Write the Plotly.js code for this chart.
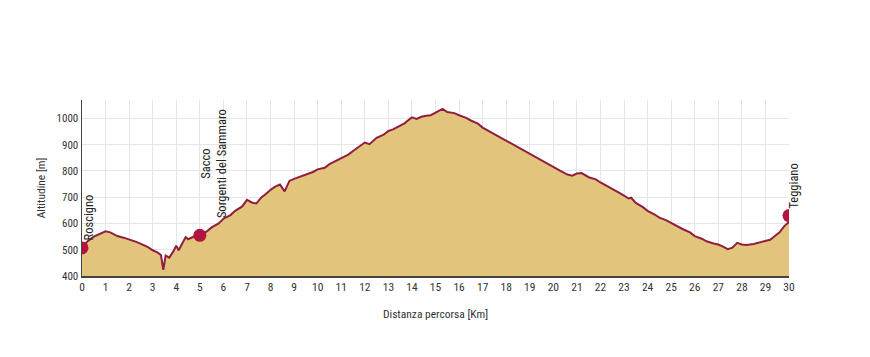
<!DOCTYPE html>
<html><head><meta charset="utf-8">
<script src="https://cdn.plot.ly/plotly-3.0.1.min.js"></script>
<style>html,body{margin:0;padding:0;background:#fff}</style>
</head><body><div id="chart" style="width:870px;height:357px"></div>
<script>
const dist = [0,0.2,0.5,0.8,1.0,1.2,1.5,1.8,2.0,2.3,2.5,2.8,3.0,3.2,3.35,3.45,3.55,3.7,3.85,4.0,4.1,4.3,4.4,4.5,4.7,4.8,5.0,5.3,5.5,5.8,6.0,6.3,6.5,6.8,7.0,7.2,7.4,7.6,7.8,8.0,8.2,8.4,8.6,8.8,9.0,9.2,9.4,9.6,9.8,10.0,10.3,10.5,10.8,11.0,11.3,11.5,11.8,12.0,12.2,12.3,12.5,12.8,13.0,13.2,13.5,13.7,13.8,14.0,14.2,14.4,14.6,14.8,15.0,15.2,15.3,15.5,15.8,16.0,16.3,16.5,16.8,17.0,17.5,18.0,18.5,19.0,19.5,20.0,20.3,20.6,20.8,21.0,21.2,21.5,21.8,22.0,22.3,22.5,22.8,23.0,23.2,23.3,23.5,23.8,24.0,24.3,24.5,24.8,25.0,25.3,25.5,25.8,26.0,26.3,26.5,26.8,27.0,27.2,27.4,27.6,27.8,28.0,28.2,28.5,28.8,29.0,29.2,29.4,29.6,29.8,30.0];
const elev = [507,530,550,562,570,566,552,545,540,530,522,510,498,490,480,423,478,470,490,515,498,530,548,540,548,552,555,570,585,600,618,632,648,665,690,680,676,698,712,728,740,748,722,762,770,776,782,790,796,806,812,826,840,850,862,876,894,908,902,910,926,938,952,958,972,982,990,1004,998,1006,1010,1012,1022,1030,1036,1024,1020,1012,1002,992,980,965,940,914,889,863,838,812,800,786,782,790,792,776,768,756,742,730,716,706,695,698,678,662,648,634,622,612,602,590,578,566,552,542,532,524,520,512,502,508,526,520,518,522,528,534,538,552,566,590,606,630];
const labels = [[0,507,"Roscigno"],[5,555,"Sacco<br>Sorgenti del Sammaro"],[30,630,"Teggiano"]];
const markX = labels.map(l=>l[0]), markY = labels.map(l=>l[1]);
const xTicks = Array.from({length:31},(_, i)=>i);
const yTicks = [400,500,600,700,800,900,1000];

const fnt = "Liberation Sans Narrow, Arial Narrow, Roboto Condensed, Liberation Sans, Arial, sans-serif";
const data = [
 {x:dist, y:elev, type:'scatter', mode:'lines', fill:'tozeroy', fillcolor:'#e2c47c',
  line:{color:'#8f1f3c', width:2}, hoverinfo:'skip'},
 {x:markX, y:markY, type:'scatter', mode:'markers', marker:{color:'#b3143f', size:13}, hoverinfo:'skip'}
];
const shifts = [[-3,5],[-4,15],[-5,5]];
const ann = labels.map((l,i)=>({x:l[0], y:l[1], xref:'x', yref:'y', text:l[2], showarrow:false,
  textangle:-90, xanchor:'left', yanchor:'bottom', xshift: shifts[i][0], yshift:shifts[i][1],
  font:{family:fnt, size:12.5, color:'#222'}}));
const layout = {
 width:870, height:357, margin:{l:82, r:81, t:100, b:81},
 paper_bgcolor:'#fff', plot_bgcolor:'#fff', showlegend:false,
 font:{family:fnt, size:11, color:'#333'},
 xaxis:{range:[0,30], tickvals:xTicks, ticktext:xTicks.map(String), showgrid:true, gridcolor:'#e6e6e6',
   showline:true, linecolor:'#444', linewidth:1.5, zeroline:false, ticks:'', tickfont:{size:11.5},
   title:{text:'Distanza percorsa [Km]', font:{size:11.5, color:'#333'}, standoff:16}},
 yaxis:{range:[400,1070], tickvals:yTicks, showgrid:true, gridcolor:'#e6e6e6',
   showline:true, linecolor:'#444', linewidth:1.5, zeroline:false, ticks:'', tickfont:{size:11},
   title:{text:'Altitudine [m]', font:{size:11.5, color:'#333'}, standoff:8}},
 annotations:ann
};
Plotly.newPlot('chart', data, layout, {displayModeBar:false, staticPlot:true});
</script></body></html>
